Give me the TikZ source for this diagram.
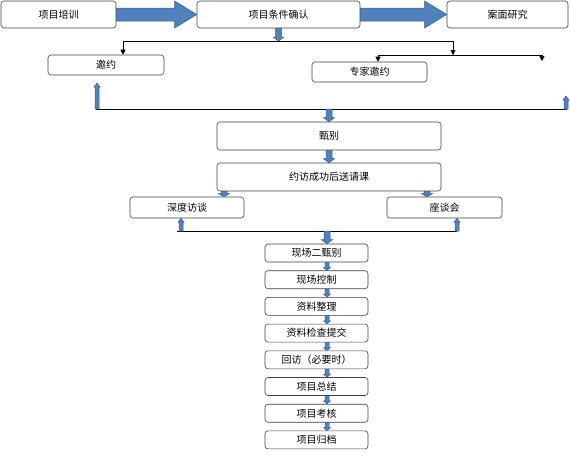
\documentclass[tikz,border=0pt]{standalone}
\usepackage{fontspec}
\newfontfamily\cjk{Noto Sans CJK SC}
\usepackage{tikz}
\usetikzlibrary{calc}
\usetikzlibrary{arrows.meta}
\usetikzlibrary{positioning}

\definecolor{arrowblue}{HTML}{4F81BD}
\definecolor{arrowedge}{HTML}{385D8A}

% block arrow: tail, tip, shaft half width, head half width, head length
\newcommand{\fatarrow}[5]{%
  \coordinate (hb) at ($(#2)!#5!(#1)$);
  \filldraw[fatfill]
    ($(#1)!#3!90:(#2)$) -- ($(hb)!#3!-90:(#1)$) -- ($(hb)!#4!-90:(#1)$) -- (#2)
    -- ($(hb)!#4!90:(#1)$) -- ($(hb)!#3!90:(#1)$) -- ($(#1)!#3!-90:(#2)$) -- cycle;
}

\tikzset{
  stepbox/.style={draw=black!75, line width=0.6pt, rounded corners=3pt, fill=white,
    inner sep=0pt, font=\cjk\fontsize{10}{12}\selectfont},
  fatfill/.style={fill=arrowblue, draw=arrowedge, line width=0.5pt},
  thinline/.style={draw=black, line width=0.6pt},
  thinarrow/.style={thinline, -{Triangle[width=5pt,length=5pt]}},
}

\begin{document}
\begin{tikzpicture}[x=1pt, y=-1pt]
  \useasboundingbox (0,0) rectangle (570,455);
  % top row
  \node[stepbox, minimum width=115, minimum height=27] (train) at (58.5,14.5) {项目培训};
  \node[stepbox, minimum width=163, minimum height=27] (confirm) at (278.5,14.5) {项目条件确认};
  \node[stepbox, minimum width=121, minimum height=27] (desk) at (507.5,14.5) {案面研究};
  \fatarrow{train.east}{confirm.west}{6.5pt}{13.5pt}{22pt}
  \fatarrow{confirm.east}{desk.west}{6.5pt}{13.5pt}{22pt}

  % invitations
  \node[stepbox, minimum width=116, minimum height=20] (invite) at (106,65) {邀约};
  \node[stepbox, minimum width=115, minimum height=20] (expert) at (369.5,72) {专家邀约};
  \coordinate (split) at (278.5,41);
  \coordinate (splitL) at (123,41);
  \coordinate (splitR) at (453,41);
  \coordinate (fork) at (453,55);
  \coordinate (forkL) at (378,55);
  \coordinate (forkR) at (542,55);
  \coordinate (forkRend) at (542,61);
  \fatarrow{confirm.south}{split}{3pt}{5.5pt}{4pt}
  \draw[thinline] (splitL) -- (splitR);
  \draw[thinarrow] (splitL) -- (splitL |- invite.north);
  \draw[thinarrow] (splitR) -- (fork);
  \draw[thinline] (forkL) -- (forkR);
  \draw[thinarrow] (forkL) -- (forkL |- expert.north);
  \draw[thinarrow] (forkR) -- (forkRend);

  % gathering line
  \node[stepbox, minimum width=224, minimum height=28] (screen) at (329,136) {甄别};
  \node[stepbox, minimum width=224, minimum height=28] (visit) at (329,177) {约访成功后送请课};
  \coordinate (gatherL) at (96,109);
  \coordinate (gatherR) at (567,109);
  \coordinate (upLtip) at (97,83);
  \coordinate (upRtip) at (566,96);
  \draw[thinline] (gatherL) -- (gatherR);
  \fatarrow{upLtip |- gatherL}{upLtip}{2pt}{3pt}{4pt}
  \fatarrow{upRtip |- gatherL}{upRtip}{2pt}{3pt}{4pt}
  \fatarrow{screen.north |- gatherL}{screen.north}{3pt}{5.5pt}{4pt}
  \fatarrow{screen.south}{visit.north}{3pt}{5.5pt}{4pt}

  % interviews
  \node[stepbox, minimum width=114, minimum height=21] (depth) at (187,207.5) {深度访谈};
  \node[stepbox, minimum width=115, minimum height=21] (forum) at (444.5,207.5) {座谈会};
  \coordinate (dropL) at (224,0);
  \coordinate (dropR) at (427,0);
  \fatarrow{visit.south -| dropL}{depth.north -| dropL}{3pt}{5.5pt}{3pt}
  \fatarrow{visit.south -| dropR}{forum.north -| dropR}{3pt}{5.5pt}{3pt}
  \coordinate (joinL) at (177,231);
  \coordinate (joinR) at (457,231);
  \coordinate (riseL) at (181,231);
  \draw[thinline] (joinL) -- (joinR);
  \fatarrow{riseL}{depth.south -| riseL}{2pt}{3pt}{4pt}
  \fatarrow{joinR}{forum.south -| joinR}{2pt}{3pt}{4pt}

  % field work steps
  \coordinate (col) at (327,0);
  \foreach \t [count=\i] in {现场二甄别,现场控制,资料整理,资料检查提交,回访（必要时）,项目总结,项目考核,项目归档}
    \node[stepbox, minimum width=103, minimum height=18] (s\i) at (316.5,{253+(\i-1)*26.7}) {\t};
  \fatarrow{joinL -| col}{s1.north -| col}{3pt}{5.5pt}{4pt}
  \foreach \i [count=\j from 2] in {1,...,7} {
    \fatarrow{s\i.south -| col}{s\j.north -| col}{2pt}{3.5pt}{3pt}
  }
\end{tikzpicture}
\end{document}
